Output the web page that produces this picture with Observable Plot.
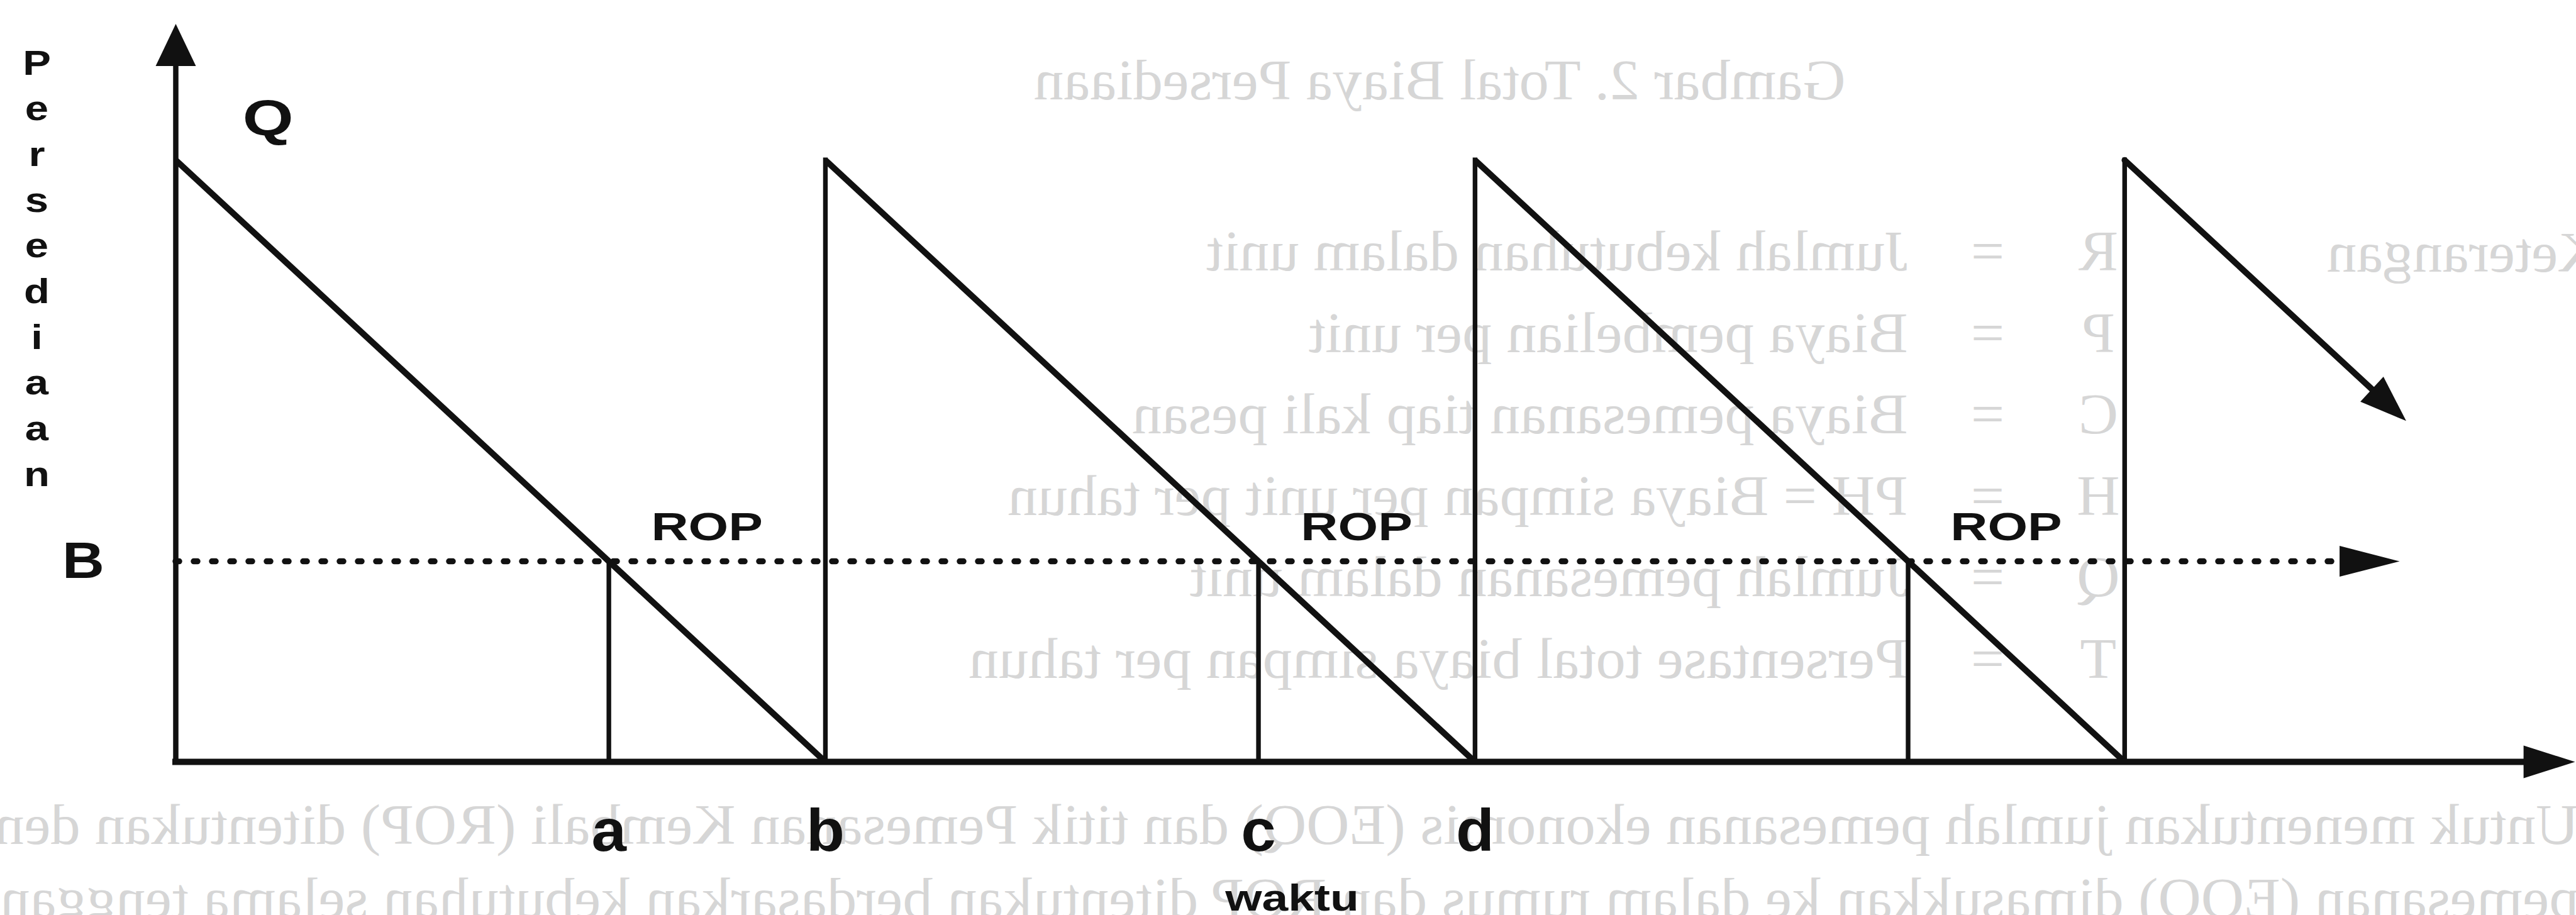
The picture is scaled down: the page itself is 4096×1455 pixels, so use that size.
<!DOCTYPE html>
<html>
<head>
<meta charset="utf-8">
<script src="https://cdn.jsdelivr.net/npm/d3@7"></script>
<script src="https://cdn.jsdelivr.net/npm/@observablehq/plot@0.6"></script>
<style>
  html, body { margin: 0; padding: 0; background: #fff; }
  #chart svg { display: block; }
</style>
</head>
<body>
<div id="chart"></div>
<script>
// ---- Inventory model (reorder-point sawtooth) ----
const orderQty = 300;        // Q: stock right after a delivery
const reorderLevel = 100;    // B: reorder point (ROP)

// demand runs: when each run starts, when it ends, stock left at its end
const runStart = [0, 3, 6, 9];
const runEnd = [3, 6, 9, 10.3];
const runEndStock = [0, 0, 0, 170];

// deliveries (stock jumps back to Q) and moments stock hits the reorder point
const replenishTimes = [3, 6, 9];
const reorderTimes = [2, 5, 8];

// labels on the time axis
const tickTimes = [2, 3, 5, 6];
const tickNames = ["a", "b", "c", "d"];

// axis texts
const stockName = "Persediaan";
const timeName = "waktu";
const qName = "Q";
const bName = "B";
const ropName = "ROP";

// extent of the axes and of the reorder-level line
const timeEnd = 11.08;
const stockTop = 368;
const ropLineEnd = 10.27;

// text printed on the reverse of the sheet, showing through the paper
const reverseTitle = "Gambar 2. Total Biaya Persediaan";
const reverseHeading = "Keterangan";
const reverseSymbols = ["R", "P", "C", "H", "Q", "T"];
const reverseTerms = [
  "Jumlah kebutuhan dalam unit",
  "Biaya pembelian per unit",
  "Biaya pemesanan tiap kali pesan",
  "PH = Biaya simpan per unit per tahun",
  "Jumlah pemesanan dalam unit",
  "Persentase total biaya simpan per tahun"
];
const reverseParagraph = [
  "Untuk menentukan jumlah pemesanan ekonomis (EOQ) dan titik Pemesanan Kembali (ROP) ditentukan dengan rumus sebagai berikut ini",
  "pemesanan (EOQ) dimasukkan ke dalam rumus dan ROP ditentukan berdasarkan kebutuhan selama tenggang waktu pemesanan bahan baku"
];

// ---- layout ----
const W = 4096, H = 1455;
const mLeft = 279, mRight = 2, mTop = 37.4, mBottom = 244;
const pxPerT = (W - mLeft - mRight) / timeEnd;
const pxPerUnit = (H - mTop - mBottom) / stockTop;
const sans = "'Liberation Sans', Arial, Helvetica, sans-serif";
const serif = "'Liberation Serif', 'Times New Roman', serif";
const ink = "#111";
const ghostInk = "#d6d6d6";

// filled arrowhead with its tip at the origin, pointing along (dirX, dirY)
function arrowHead(dirX, dirY, lengthRatio) {
  const n = Math.hypot(dirX, dirY), ux = dirX / n, uy = dirY / n;
  return {
    draw(context, size) {
      const hw = Math.sqrt(size / Math.PI), len = hw * lengthRatio;
      const bx = -ux * len, by = -uy * len;
      context.moveTo(0, 0);
      context.lineTo(bx - uy * hw, by + ux * hw);
      context.lineTo(bx + uy * hw, by - ux * hw);
      context.closePath();
    }
  };
}

const runIdx = runStart.map((_, i) => i);
const last = runIdx[runIdx.length - 1];
const demandDir = [
  (runEnd[last] - runStart[last]) * pxPerT,
  (orderQty - runEndStock[last]) * pxPerUnit
];

const ghostText = {fontFamily: serif, fontSize: 90, fill: ghostInk, frameAnchor: "top-left", ariaDescription: "reverse-side"};

const chart = Plot.plot({
  width: W,
  height: H,
  marginLeft: mLeft,
  marginRight: mRight,
  marginTop: mTop,
  marginBottom: mBottom,
  x: {domain: [0, timeEnd], axis: null},
  y: {domain: [0, stockTop], axis: null},
  style: {background: "#fff", color: ink, fontFamily: sans, overflow: "visible"},
  marks: [
    // show-through from the reverse page (mirrored below)
    Plot.text([reverseTitle], {...ghostText, dx: 2655, dy: 119.6, lineAnchor: "bottom", textAnchor: "start"}),
    Plot.text([reverseHeading], {...ghostText, dx: 3856, dy: 393.6, lineAnchor: "bottom", textAnchor: "start"}),
    Plot.text([reverseSymbols.join("\n")], {...ghostText, dx: 3057, dy: 1039.6, lineAnchor: "bottom", lineHeight: 1.438, textAnchor: "middle"}),
    Plot.text([reverseSymbols.map(() => "=").join("\n")], {...ghostText, dx: 2881, dy: 1039.6, lineAnchor: "bottom", lineHeight: 1.438, textAnchor: "middle"}),
    Plot.text([reverseTerms.join("\n")], {...ghostText, dx: 2754, dy: 1039.6, lineAnchor: "bottom", lineHeight: 1.438, textAnchor: "start"}),
    Plot.text([reverseParagraph.join("\n")], {...ghostText, dx: 3821, dy: 1420.6, lineAnchor: "bottom", lineHeight: 1.29, textAnchor: "start"}),

    // reorder level B, dotted, running to the right
    Plot.ruleY([reorderLevel], {x1: 0, x2: ropLineEnd - 45 / pxPerT, stroke: ink, strokeWidth: 9.5, strokeDasharray: "6 23", strokeLinecap: "round"}),
    Plot.dot([reorderLevel], {x: ropLineEnd, y: d => d, r: 24.5, symbol: arrowHead(1, 0, 3.9), fill: ink, stroke: "none"}),

    // lead-time markers at the reorder moments
    Plot.ruleX(reorderTimes, {y1: 0, y2: reorderLevel, stroke: ink, strokeWidth: 7.4}),
    // deliveries: stock jumps back up to Q
    Plot.ruleX(replenishTimes, {y1: 0, y2: orderQty, stroke: ink, strokeWidth: 7.4, strokeLinecap: "square"}),

    // stock used up over each run
    Plot.link(runIdx, {
      filter: i => runEndStock[i] === 0,
      x1: i => runStart[i], y1: orderQty,
      x2: i => runEnd[i], y2: i => runEndStock[i],
      stroke: ink, strokeWidth: 9.8
    }),
    Plot.arrow(runIdx, {
      filter: i => runEndStock[i] > 0,
      x1: i => runStart[i], y1: orderQty,
      x2: i => runEnd[i], y2: i => runEndStock[i],
      stroke: ink, strokeWidth: 9.8, headLength: 0, insetEnd: 30
    }),
    Plot.dot([last], {x: i => runEnd[i], y: i => runEndStock[i], r: 27, symbol: arrowHead(demandDir[0], demandDir[1], 2.75), fill: ink, stroke: "none"}),

    // axes with arrowheads
    Plot.ruleX([0], {y1: 0, y2: stockTop - 34 / pxPerUnit, stroke: ink, strokeWidth: 8.5, strokeLinecap: "square"}),
    Plot.dot([0], {x: d => d, y: stockTop, r: 32, symbol: arrowHead(0, -1, 2.1), fill: ink, stroke: "none"}),
    Plot.ruleY([0], {x1: 0, x2: timeEnd - 41 / pxPerT, stroke: ink, strokeWidth: 10, strokeLinecap: "square"}),
    Plot.dot([0], {x: timeEnd, y: d => d, r: 26, symbol: arrowHead(1, 0, 3.15), fill: ink, stroke: "none"}),

    // labels
    Plot.text([stockName.split("").join("\n")], {
      frameAnchor: "top-left", dx: 58 - mLeft, dy: 29, lineAnchor: "top", lineHeight: 72.7 / 55,
      textAnchor: "middle", fontSize: 55, fontWeight: "bold", fill: ink, ariaDescription: "stock-name"
    }),
    Plot.text([qName], {x: 0, y: orderQty, dx: 146.6, dy: -40, lineAnchor: "bottom", textAnchor: "middle", fontSize: 80, fontWeight: "bold", fill: ink, ariaDescription: "q-name"}),
    Plot.text([bName], {x: 0, y: reorderLevel, dx: -147, lineAnchor: "middle", textAnchor: "middle", fontSize: 82, fontWeight: "bold", fill: ink, ariaDescription: "b-name"}),
    Plot.text(reorderTimes, {x: d => d, y: reorderLevel, text: () => ropName, dx: 156, dy: -34, lineAnchor: "bottom", textAnchor: "middle", fontSize: 63, fontWeight: "bold", fill: ink, ariaDescription: "rop-name"}),
    Plot.text(tickTimes, {x: d => d, y: 0, text: (d, i) => tickNames[i], dy: 141, lineAnchor: "bottom", textAnchor: "middle", fontSize: 95, fontWeight: "bold", fill: ink, ariaDescription: "time-ticks"}),
    Plot.text([timeName], {frameAnchor: "bottom", dx: -132.5, dy: 236, lineAnchor: "bottom", textAnchor: "middle", fontSize: 60, fontWeight: "bold", fill: ink, ariaDescription: "time-name"})
  ]
});

// horizontal stretch of the lettering (negative = mirrored show-through)
const stretch = {
  "reverse-side": -1.05,
  "stock-name": 1.22,
  "q-name": 1.3,
  "b-name": 1.13,
  "rop-name": 1.3,
  "time-ticks": 1.05,
  "time-name": 1.25
};
for (const [label, sx] of Object.entries(stretch)) {
  const found = new Set();
  chart.querySelectorAll(`[aria-description="${label}"], [aria-label="${label}"]`).forEach(el => {
    if (el.tagName.toLowerCase() === "text") found.add(el);
    else el.querySelectorAll("text").forEach(t => found.add(t));
  });
  found.forEach(t => {
    const tr = t.getAttribute("transform") || "";
    t.setAttribute("transform", `${tr} scale(${sx},1)`);
  });
}

document.getElementById("chart").appendChild(chart);
</script>
</body>
</html>
